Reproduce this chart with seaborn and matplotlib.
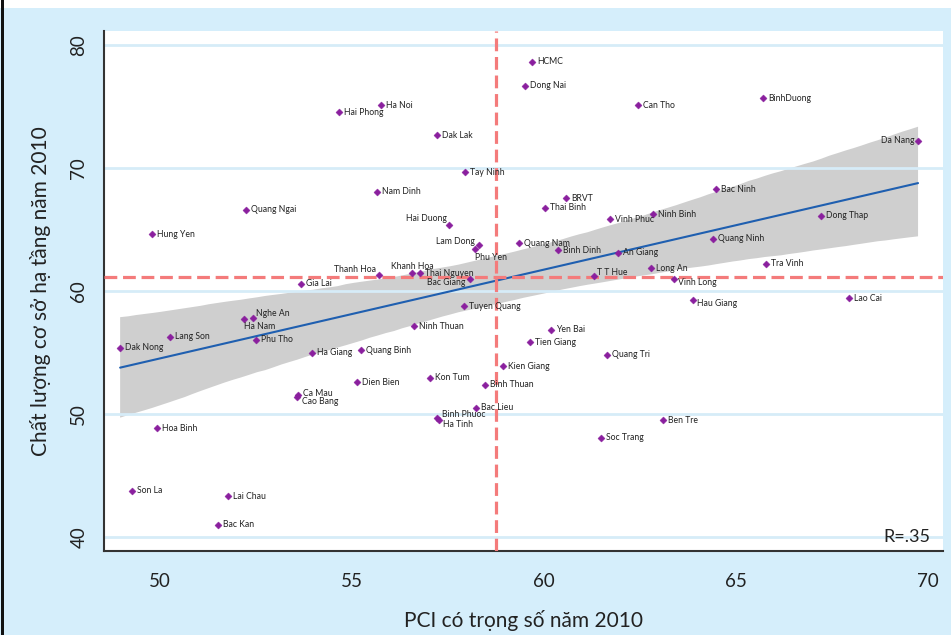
import numpy as np
import pandas as pd
import matplotlib
matplotlib.use("Agg")
import matplotlib.pyplot as plt
from matplotlib.patches import Rectangle
import seaborn as sns

# ---------------- data ----------------
provinces = ["HCMC", "Dong Nai", "Can Tho", "BinhDuong", "Ha Noi", "Hai Phong", "Dak Lak",
             "Da Nang", "Tay Ninh", "Nam Dinh", "BRVT", "Bac Ninh", "Thai Binh", "Quang Ngai",
             "Vinh Phuc", "Ninh Binh", "Dong Thap", "Hai Duong", "Hung Yen", "Quang Ninh",
             "Quang Nam", "Lam Dong", "Phu Yen", "Binh Dinh", "An Giang", "Tra Vinh", "Long An",
             "Khanh Hoa", "Thai Nguyen", "Thanh Hoa", "T T Hue", "Bac Giang", "Vinh Long",
             "Gia Lai", "Lao Cai", "Hau Giang", "Tuyen Quang", "Nghe An", "Ha Nam", "Ninh Thuan",
             "Yen Bai", "Lang Son", "Phu Tho", "Tien Giang", "Dak Nong", "Quang Binh", "Ha Giang",
             "Quang Tri", "Kien Giang", "Kon Tum", "Dien Bien", "Binh Thuan", "Ca Mau", "Cao Bang",
             "Bac Lieu", "Binh Phuoc", "Ha Tinh", "Ben Tre", "Hoa Binh", "Soc Trang", "Son La",
             "Lai Chau", "Bac Kan"]
pci = [59.69, 59.51, 62.45, 65.70, 55.76, 54.66, 57.21,
       69.74, 57.94, 55.65, 60.57, 64.48, 60.03, 52.24,
       61.72, 62.84, 67.21, 57.53, 49.79, 64.40,
       59.35, 58.31, 58.20, 60.36, 61.93, 65.78, 62.79,
       56.56, 56.77, 55.70, 61.30, 58.07, 63.39,
       53.67, 67.94, 63.88, 57.92, 52.42, 52.19, 56.61,
       60.18, 50.26, 52.50, 59.64, 48.96, 55.23, 53.96,
       61.64, 58.93, 57.03, 55.13, 58.46, 53.59, 53.57,
       58.23, 57.21, 57.27, 63.10, 49.92, 61.48, 49.27,
       51.77, 51.51]
infra = [78.62, 76.67, 75.12, 75.69, 75.12, 74.55, 72.68,
         72.20, 69.67, 68.05, 67.56, 68.29, 66.75, 66.59,
         65.85, 66.26, 66.10, 65.37, 64.63, 64.23,
         63.90, 63.74, 63.41, 63.33, 63.09, 62.20, 61.87,
         61.46, 61.46, 61.30, 61.22, 60.98, 60.98,
         60.57, 59.43, 59.27, 58.78, 57.80, 57.72, 57.15,
         56.83, 56.26, 56.02, 55.85, 55.37, 55.20, 54.96,
         54.80, 53.90, 52.93, 52.60, 52.36, 51.54, 51.38,
         50.49, 49.67, 49.51, 49.51, 48.86, 48.05, 43.74,
         43.33, 40.98]
mean_pci = 58.76
mean_infra = 61.1
x_ticks = [50, 55, 60, 65, 70]
y_ticks = [40, 50, 60, 70, 80]
r_text = "R=.35"
x_title = "PCI có trọng số năm 2010"
y_title = "Chất lượng cơ sở hạ tầng năm 2010"

df = pd.DataFrame({"province": provinces, "pci": pci, "infra": infra})

# label placement (pixel offsets, horizontal alignment)
label_pos = {
    "Da Nang": (-4, 0, "right"),
    "Hai Duong": (-2, 6, "right"),
    "Lam Dong": (-4, 4, "right"),
    "Phu Yen": (0, -8, "left"),
    "Khanh Hoa": (0, 7, "center"),
    "Thanh Hoa": (-3, 6, "right"),
    "Bac Giang": (-5, -4, "right"),
    "Vinh Long": (4, -4, "left"),
    "Hau Giang": (4, -4, "left"),
    "Nghe An": (3, 5, "left"),
    "Ha Nam": (0, -7, "left"),
    "Ca Mau": (5, 2, "left"),
    "Cao Bang": (5, -4, "left"),
    "Binh Phuoc": (5, 4, "left"),
    "Ha Tinh": (4, -4, "left"),
    "T T Hue": (3, 3, "left"),
}

# ---------------- style ----------------
bg = "#d5eefb"
sns.set_style("white")
plt.rcParams["font.family"] = ["Lato", "DejaVu Sans"]

fig = plt.figure(figsize=(9.51, 6.35), dpi=100, facecolor=bg)
ax = fig.add_axes([104 / 951, 1 - 551 / 635, (943 - 104) / 951, (551 - 31) / 635])
ax.set_facecolor("white")

# decorative figure frame pieces
fig.patches.append(Rectangle((0, 1 - 8 / 635), 1, 8 / 635, transform=fig.transFigure,
                             facecolor="white", edgecolor="none", zorder=0))
fig.patches.append(Rectangle((1 / 951, 0), 2.5 / 951, 1, transform=fig.transFigure,
                             facecolor="#111111", edgecolor="none", zorder=5))

# regression with CI
sns.regplot(data=df, x="pci", y="infra", ax=ax, scatter=False, ci=95, n_boot=2000, seed=3,
            color="#1f5fb0", line_kws=dict(lw=1.5, zorder=2.5))
for coll in ax.collections:
    coll.set_facecolor("#cfcfcf")
    coll.set_alpha(1)
    coll.set_edgecolor("none")
    coll.set_zorder(1)

# grid (drawn over the CI band, as in the reference)
for yt in y_ticks:
    ax.axhline(yt, color="#d6ecf8", lw=2.0, zorder=1.5)

# mean lines
ax.axvline(mean_pci, color="#f47b7b", lw=2.3, dashes=(4, 1.8), zorder=3)
ax.axhline(mean_infra, color="#f47b7b", lw=2.3, dashes=(4, 1.8), zorder=3)

# scatter
sns.scatterplot(data=df, x="pci", y="infra", ax=ax, marker="D", s=13, color="#8a1f9e",
                edgecolor="#8a1f9e", linewidth=0.3, zorder=4, legend=False)

for name, xv, yv in zip(provinces, pci, infra):
    dx, dy, ha = label_pos.get(name, (5, 0, "left"))
    ax.annotate(name, (xv, yv), xytext=(dx * 0.72, dy * 0.72), textcoords="offset points",
                ha=ha, va="center", fontsize=6.2, color="#222222", zorder=5)

ax.text(0.985, 0.012, r_text, transform=ax.transAxes, ha="right", va="bottom",
        fontsize=13, color="#222222")

ax.set_xlim(48.54, 70.39)
ax.set_ylim(38.86, 81.14)
ax.set_xticks(x_ticks)
ax.set_yticks(y_ticks)
ax.set_xticklabels([str(t) for t in x_ticks], fontsize=13.5, color="#222222")
ax.set_yticklabels([str(t) for t in y_ticks], fontsize=13.5, color="#222222",
                   rotation=90, va="center")
ax.tick_params(axis="both", direction="out", length=8, width=1.3, color="#444444", pad=4)
ax.tick_params(axis="x", pad=8)

for s in ["top", "right"]:
    ax.spines[s].set_visible(False)
for s in ["left", "bottom"]:
    ax.spines[s].set_color("#333333")
    ax.spines[s].set_linewidth(1.5)

ax.set_xlabel(x_title, fontsize=15, color="#222222", labelpad=14)
ax.set_ylabel(y_title, fontsize=15, color="#222222", labelpad=14)

fig.savefig("out.png", dpi=100, facecolor=bg)
